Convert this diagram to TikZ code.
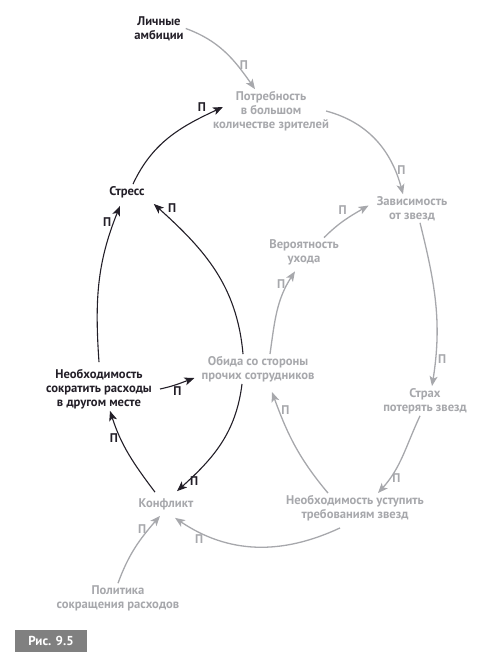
\documentclass[tikz,border=0pt]{standalone}
\usepackage{fontspec}
\setmainfont{PT Sans}
\usetikzlibrary{arrows.meta}

\definecolor{lgray}{RGB}{167,168,172}
\definecolor{dkink}{RGB}{35,31,40}
\definecolor{boxgray}{RGB}{128,128,128}

\tikzset{
  txt/.style={font=\fontsize{12.6}{13.8}\selectfont\bfseries, align=center, inner sep=2pt},
  gtxt/.style={txt, text=lgray},
  btxt/.style={txt, text=dkink},
  tip/.style={-{Stealth[length=10pt,width=8pt,inset=2.5pt]}},
  gedge/.style={draw=lgray, line width=1.3pt, tip},
  bedge/.style={draw=dkink, line width=1.1pt, tip},
  gp/.style={font=\fontsize{12.6}{13}\selectfont\bfseries, text=lgray, inner sep=2pt},
  bp/.style={font=\fontsize{12.6}{13}\selectfont\bfseries, text=dkink, inner sep=2pt}
}

\begin{document}
\begin{tikzpicture}[x=1pt,y=1pt]
\useasboundingbox (0,0) rectangle (495,-660);

\node[btxt] (amb) at (159,-28.5) {Личные\\амбиции};
\node[gtxt] (potr) at (271,-111) {Потребность\\в большом\\количестве зрителей};
\node[btxt] (stress) at (127,-192) {Стресс};
\node[gtxt] (zav) at (412,-208.5) {Зависимость\\от звезд};
\node[gtxt] (ver) at (304,-252.5) {Вероятность\\ухода};
\node[gtxt] (obida) at (258,-369) {Обида со стороны\\прочих сотрудников};
\node[btxt] (sokr) at (99,-389) {Необходимость\\сократить расходы\\в другом месте};
\node[gtxt] (strah) at (425,-401) {Страх\\потерять звезд};
\node[gtxt] (konf) at (166,-504) {Конфликт};
\node[gtxt] (ustup) at (355,-508) {Необходимость уступить\\требованиям звезд};
\node[gtxt] (pol) at (118,-598) {Политика\\сокращения расходов};

% grey links
\path[gedge] (amb.east) to[out=-20,in=125] node[gp,pos=.7,right] {П} ([xshift=-16pt]potr.north);
\path[gedge] ([xshift=-5pt]potr.east) to[out=-15,in=105] node[gp,pos=.8,right] {П} ([xshift=-9pt]zav.north);
\path[gedge] ([xshift=20pt]ver.north) to[out=45,in=-150] node[gp,pos=.6,above left] {П} ([xshift=-6pt,yshift=3pt]zav.west);
\path[gedge] ([xshift=8pt]zav.south) to[out=-76,in=81] node[gp,pos=.85,right] {П} ([xshift=7pt]strah.north);
\path[gedge] ([xshift=-5pt]strah.south) to[out=-115,in=48] node[gp,pos=.8,right] {П} ([xshift=23pt]ustup.north);
\path[gedge] ([xshift=-27pt]ustup.north) to[out=130,in=-70] node[gp,pos=.85,right] {П} ([xshift=14pt,yshift=-8pt]obida.south);
\path[gedge] ([xshift=-15pt,yshift=-5pt]ustup.south) to[out=-155,in=-34] node[gp,pos=.85,below] {П} ([xshift=9pt,yshift=-6pt]konf.south);
\path[gedge] ([xshift=12pt]obida.north) to[out=82,in=-123] node[gp,pos=.85,left] {П} ([xshift=-9pt,yshift=-4pt]ver.south);
\path[gedge] (pol.north) to[out=70,in=-131] node[gp,pos=.8,left] {П} ([xshift=-6pt,yshift=-4pt]konf.south);

% black links
\path[bedge] ([xshift=6pt]stress.north) to[out=65,in=205] node[bp,pos=.88,above left] {П} ([xshift=12pt,yshift=4pt]potr.west);
\path[bedge] ([xshift=-15pt]obida.north) to[out=95,in=-42] node[bp,pos=.92,above right] {П} ([xshift=7pt,yshift=-4pt]stress.south east);
\path[bedge] ([xshift=-16pt]obida.south) to[out=-97,in=42] node[bp,pos=.9,right] {П} ([xshift=11pt,yshift=5pt]konf.north);
\path[bedge] ([xshift=6pt]sokr.east) to[out=12,in=-160] node[bp,midway,below] {П} ([xshift=-5pt,yshift=-9pt]obida.west);
\path[bedge] ([xshift=-11pt,yshift=4pt]konf.north) to[out=127,in=-72] node[bp,pos=.7,left] {П} ([xshift=11pt]sokr.south);
\path[bedge] ([yshift=5pt]sokr.north) to[out=94,in=-112] node[bp,pos=.9,left] {П} ([xshift=-7pt,yshift=-6pt]stress.south);

% figure tag
\node[fill=boxgray, text=white, font=\fontsize{13}{15}\selectfont\bfseries,
  minimum width=72pt, minimum height=22pt, inner sep=0pt] (fig) at (51,-641) {Рис. 9.5};
\end{tikzpicture}
\end{document}
